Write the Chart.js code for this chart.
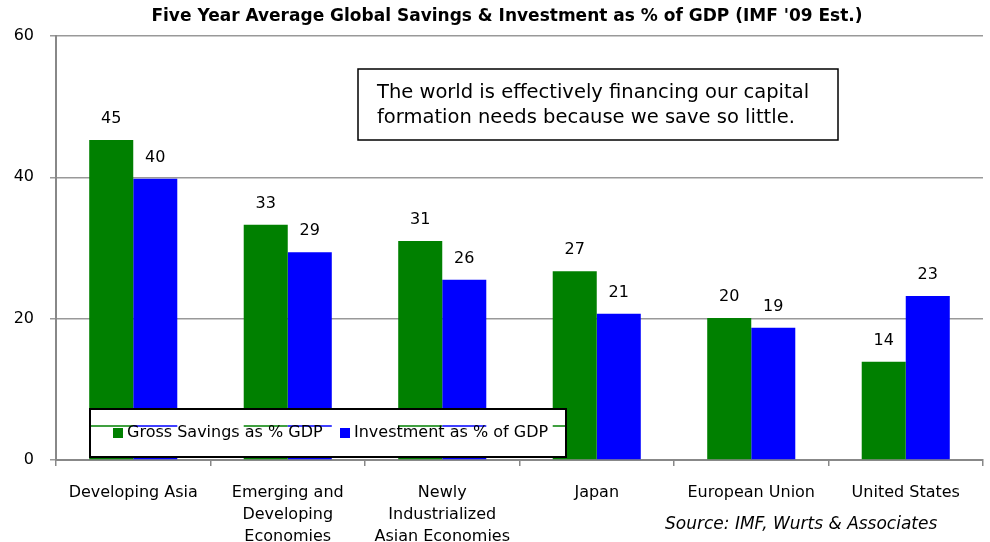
<!DOCTYPE html>
<html>
<head>
<meta charset="utf-8">
<script src="https://cdn.jsdelivr.net/npm/chart.js@4.4.1/dist/chart.umd.min.js"></script>
<style>
  html, body { margin: 0; padding: 0; background: #fff; }
  #wrap { width: 990px; height: 542px; }
</style>
</head>
<body>
<div id="wrap"><canvas id="chart" width="990" height="542"></canvas></div>
<script>
var categories = [
  ['Developing Asia'],
  ['Emerging and', 'Developing', 'Economies'],
  ['Newly', 'Industrialized', 'Asian Economies'],
  ['Japan'],
  ['European Union'],
  ['United States']
];
var grossSavings = [45.3, 33.3, 31.0, 26.7, 20.1, 13.9];
var investment = [39.8, 29.4, 25.5, 20.7, 18.7, 23.2];
var yTicks = [0, 20, 40, 60];

var FONT = "'DejaVu Sans', Tahoma, sans-serif";

// labels above bars, title, note box, legend box, source
var extras = {
  id: 'extras',
  afterDatasetsDraw: function(chart) {
    var ctx = chart.ctx;
    ctx.save();
    ctx.fillStyle = '#000';
    ctx.font = '16px ' + FONT;
    ctx.textAlign = 'center';
    ctx.textBaseline = 'bottom';
    chart.data.datasets.forEach(function(ds, i) {
      chart.getDatasetMeta(i).data.forEach(function(bar, j) {
        ctx.fillText(Math.round(ds.data[j]), bar.x, bar.y - 13);
      });
    });
    ctx.restore();
  },
  afterDraw: function(chart) {
    var ctx = chart.ctx;
    ctx.save();
    // title
    ctx.fillStyle = '#000';
    ctx.font = 'bold 17px ' + FONT;
    ctx.textAlign = 'center';
    ctx.textBaseline = 'middle';
    ctx.fillText("Five Year Average Global Savings & Investment as % of GDP (IMF '09 Est.)", 507, 17);

    // note box
    ctx.fillStyle = '#fff';
    ctx.fillRect(358, 69, 480, 71);
    ctx.lineWidth = 1.5;
    ctx.strokeStyle = '#000';
    ctx.strokeRect(358, 69, 480, 71);
    ctx.fillStyle = '#000';
    ctx.font = '19.5px ' + FONT;
    ctx.textAlign = 'left';
    ctx.fillText('The world is effectively financing our capital', 377, 93);
    ctx.fillText('formation needs because we save so little.', 377, 118);

    // legend
    ctx.fillStyle = '#fff';
    ctx.fillRect(90, 409, 476, 48);
    var ds = chart.data.datasets;
    // bar edges showing through the legend box
    ctx.lineWidth = 1.5;
    ds.forEach(function(d, i) {
      ctx.strokeStyle = d.backgroundColor;
      chart.getDatasetMeta(i).data.forEach(function(bar) {
        var x0 = Math.max(bar.x - bar.width / 2, 90), x1 = Math.min(bar.x + bar.width / 2, 566);
        if (x1 > x0) {
          ctx.beginPath();
          ctx.moveTo(x0, 426);
          ctx.lineTo(x1, 426);
          ctx.stroke();
        }
      });
    });
    ctx.lineWidth = 2;
    ctx.strokeStyle = '#000';
    ctx.strokeRect(90, 409, 476, 48);
    ctx.font = '16px ' + FONT;
    ctx.fillStyle = ds[0].backgroundColor;
    ctx.fillRect(113, 428, 10, 10);
    ctx.fillStyle = ds[1].backgroundColor;
    ctx.fillRect(340, 428, 10, 10);
    ctx.fillStyle = '#000';
    ctx.fillText(ds[0].label, 127, 433);
    ctx.fillText(ds[1].label, 354, 433);

    // source
    ctx.font = 'italic 17px ' + FONT;
    ctx.fillText('Source: IMF, Wurts & Associates', 665, 525);
    ctx.restore();
  }
};

new Chart(document.getElementById('chart').getContext('2d'), {
  type: 'bar',
  data: {
    labels: categories,
    datasets: [
      { label: 'Gross Savings as % GDP', data: grossSavings, backgroundColor: '#008000' },
      { label: 'Investment as % of GDP', data: investment, backgroundColor: '#0000ff' }
    ]
  },
  options: {
    responsive: false,
    animation: false,
    layout: { padding: { top: 36, right: 7, left: 0, bottom: 0 } },
    barPercentage: 1.0,
    categoryPercentage: 0.57,
    plugins: {
      legend: { display: false },
      tooltip: { enabled: false }
    },
    scales: {
      x: {
        afterFit: function(scale) { scale.height = 82; },
        grid: { offset: true, drawOnChartArea: false, color: '#888', tickLength: 6, lineWidth: 1.5 },
        border: { color: '#888', width: 2 },
        ticks: { color: '#000', font: { family: FONT, size: 16, lineHeight: 1.38 }, padding: 16, maxRotation: 0, autoSkip: false }
      },
      y: {
        min: 0, max: 60,
        afterFit: function(scale) { scale.width = 56; },
        afterBuildTicks: function(scale) { scale.ticks = yTicks.map(function(v) { return { value: v }; }); },
        grid: { color: '#999', lineWidth: 1.5, tickLength: 6 },
        border: { color: '#888', width: 2 },
        ticks: { color: '#000', font: { family: FONT, size: 16 }, padding: 16 }
      }
    }
  },
  plugins: [extras]
});
</script>
</body>
</html>
